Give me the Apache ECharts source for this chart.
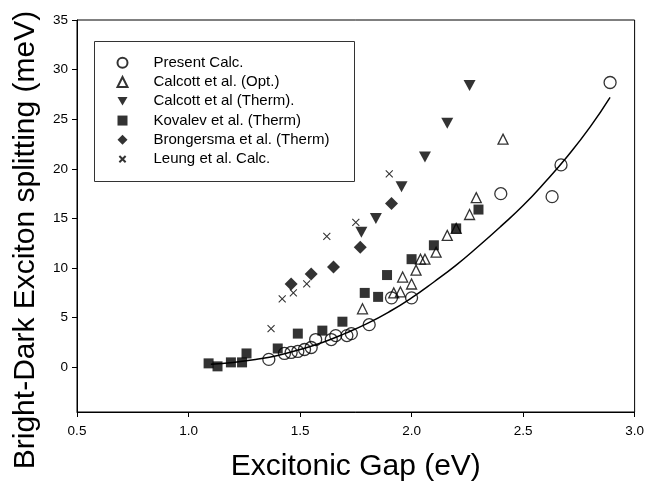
<!DOCTYPE html>
<html>
<head>
<meta charset="utf-8">
<script src="https://cdn.jsdelivr.net/npm/echarts@6/dist/echarts.min.js"></script>
<style>
  html, body { margin: 0; padding: 0; background: #fff; }
  #main { width: 647px; height: 487px; }
</style>
</head>
<body>
<div id="main"></div>
<script>
// values: [gap (eV), splitting (meV)]
const presentCalc = [[1.36,0.8],[1.43,1.4],[1.46,1.5],[1.49,1.6],[1.52,1.8],[1.55,2.0],[1.57,2.8],[1.64,2.8],[1.66,3.2],[1.71,3.2],[1.73,3.4],[1.81,4.3],[1.91,7.0],[2.0,7.0],[2.40,17.5],[2.63,17.2],[2.67,20.4],[2.89,28.7]];
const calcottOpt = [[1.78,5.9],[1.92,7.5],[1.95,7.6],[1.96,9.1],[2.00,8.4],[2.02,9.8],[2.04,10.9],[2.06,10.9],[2.11,11.6],[2.16,13.3],[2.20,14.0],[2.26,15.4],[2.29,17.1],[2.41,23.0]];
const calcottTherm = [[1.775,13.6],[1.84,15.0],[1.955,18.2],[2.06,21.2],[2.16,24.6],[2.26,28.4]];
const kovalev = [[1.09,0.4],[1.13,0.1],[1.19,0.5],[1.24,0.5],[1.26,1.4],[1.40,1.9],[1.49,3.4],[1.60,3.7],[1.69,4.6],[1.79,7.5],[1.85,7.1],[1.89,9.3],[2.00,10.9],[2.10,12.3],[2.20,14.0],[2.30,15.9]];
const brongersma = [[1.46,8.4],[1.55,9.4],[1.65,10.1],[1.77,12.1],[1.91,16.5]];
const leung = [[1.37,3.9],[1.42,6.9],[1.47,7.5],[1.53,8.4],[1.62,13.2],[1.75,14.6],[1.90,19.5]];

// fitted curve
const fitX = [1.1,1.2,1.3,1.4,1.5,1.6,1.7,1.8,1.9,2.0,2.1,2.2,2.3,2.4,2.5,2.6,2.7,2.8,2.89];
const fitY = [0.3,0.5,0.8,1.2,1.8,2.5,3.4,4.4,5.6,7.0,8.6,10.3,12.2,14.2,16.3,18.7,21.3,24.2,27.2];

const yTicks = [0,5,10,15,20,25,30,35];

const names = ['Present Calc.', 'Calcott et al. (Opt.)', 'Calcott et al (Therm).',
  'Kovalev et al. (Therm)', 'Brongersma et al. (Therm)', 'Leung et al. Calc.'];

const font = 'Liberation Sans, Arial, Helvetica, sans-serif';
const openStyle = {color: 'transparent', borderColor: '#000', borderWidth: 1.3};
const solidStyle = {color: '#000'};
const downTri = 'path://M0,0L10,0L5,8.7Z';
const cross = 'path://M0,0L10,10M10,0L0,10';
const crossSmall = 'path://M-3,-3L-3,-3M0,0L10,10M10,0L0,10M13,13L13,13';

const chart = echarts.init(document.getElementById('main'));
chart.setOption({
  animation: false,
  backgroundColor: '#fff',
  grid: {left: 77, right: 9, top: 20, bottom: 75, show: true, borderColor: '#000', borderWidth: 1},
  graphic: [
    {type: 'rect', shape: {x: 94.5, y: 41.5, width: 260, height: 140},
     style: {fill: '#fff', stroke: '#333', lineWidth: 1}, z: 5},
    {type: 'text', x: 26, y: 240, rotation: Math.PI / 2,
     style: {text: 'Bright-Dark Exciton splitting (meV)', font: '30px ' + font,
       fill: '#000', textAlign: 'center', textVerticalAlign: 'middle'}}
  ],
  legend: {
    data: names.slice(0, 5).concat([{name: names[5], icon: crossSmall}]),
    orient: 'vertical', left: 111.5, top: 48, z: 10,
    itemWidth: 10, itemHeight: 10, itemGap: 0, selectedMode: false,
    textStyle: {fontFamily: font, fontSize: 15, color: '#000', lineHeight: 19.3, padding: [0, 0, 0, 21]}
  },
  xAxis: {
    type: 'value', min: 0.5, max: 3.0, interval: 0.5,
    name: 'Excitonic Gap (eV)', nameLocation: 'middle', nameGap: 40,
    nameTextStyle: {fontFamily: font, fontSize: 30, color: '#000'},
    axisLine: {onZero: false, lineStyle: {color: '#000', width: 1}},
    axisTick: {length: 5, lineStyle: {color: '#000'}},
    axisLabel: {fontFamily: font, fontSize: 13.5, color: '#000', margin: 12,
      formatter: v => v.toFixed(1)},
    splitLine: {show: false}
  },
  yAxis: {
    type: 'value', min: -4.5, max: 35,
    axisLine: {onZero: false, lineStyle: {color: '#000', width: 1}},
    axisTick: {length: 5, customValues: yTicks, lineStyle: {color: '#000'}},
    axisLabel: {fontFamily: font, fontSize: 13.5, color: '#000', margin: 9, customValues: yTicks},
    splitLine: {show: false}
  },
  series: [
    {name: 'fit', type: 'line', data: fitX.map((x, i) => [x, fitY[i]]), smooth: true,
     showSymbol: false, lineStyle: {color: '#000', width: 1.5}, z: 1},
    {name: names[0], type: 'scatter', data: presentCalc, symbol: 'circle', symbolSize: 12, itemStyle: openStyle},
    {name: names[1], type: 'scatter', data: calcottOpt, symbol: 'triangle', symbolSize: 10, itemStyle: openStyle},
    {name: names[2], type: 'scatter', data: calcottTherm, symbol: downTri, symbolSize: [12, 11], itemStyle: solidStyle},
    {name: names[3], type: 'scatter', data: kovalev, symbol: 'rect', symbolSize: 10, itemStyle: solidStyle},
    {name: names[4], type: 'scatter', data: brongersma, symbol: 'diamond', symbolSize: 13, itemStyle: solidStyle},
    {name: names[5], type: 'scatter', data: leung, symbol: cross, symbolSize: 7,
     itemStyle: {color: 'transparent', borderColor: '#000', borderWidth: 1.1}}
  ]
});
</script>
</body>
</html>
